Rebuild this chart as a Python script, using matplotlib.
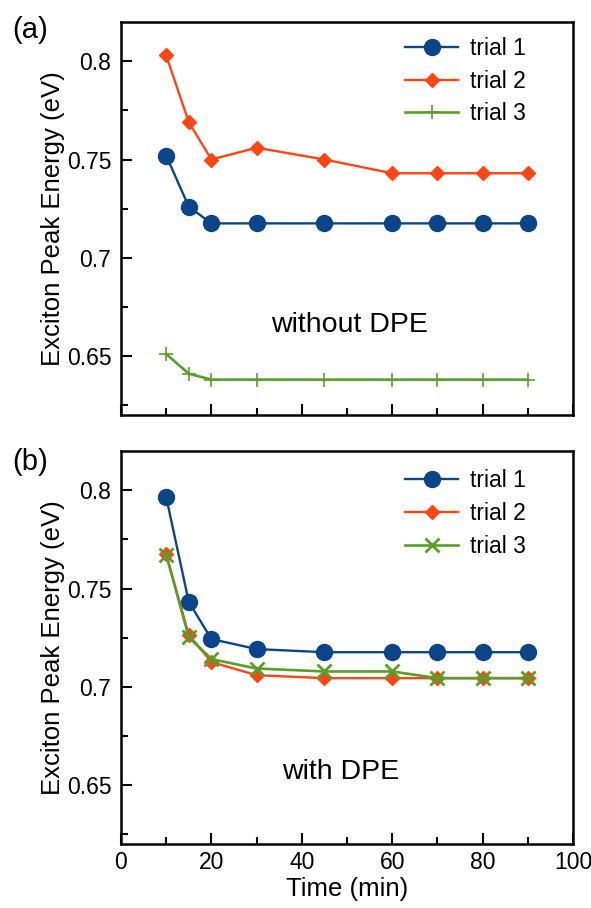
import numpy as np
import matplotlib
matplotlib.use('Agg')
import matplotlib.pyplot as plt
from matplotlib.ticker import MultipleLocator

plt.rcParams['font.family'] = ['Liberation Sans', 'DejaVu Sans']

time = [10, 15, 20, 30, 45, 60, 70, 80, 90]

# (a) without DPE
a_trial1 = [0.752, 0.726, 0.7175, 0.7175, 0.7175, 0.7175, 0.7175, 0.7175, 0.7175]
a_trial2 = [0.803, 0.769, 0.750, 0.756, 0.750, 0.743, 0.743, 0.743, 0.743]
a_trial3 = [0.651, 0.641, 0.638, 0.638, 0.638, 0.638, 0.638, 0.638, 0.638]

# (b) with DPE
b_trial1 = [0.7966, 0.7432, 0.7243, 0.7192, 0.7176, 0.7176, 0.7176, 0.7176, 0.7176]
b_trial2 = [0.7675, 0.7264, 0.7126, 0.7059, 0.7044, 0.7044, 0.7044, 0.7044, 0.7044]
b_trial3 = [0.7672, 0.7253, 0.7141, 0.7093, 0.7078, 0.7078, 0.7044, 0.7044, 0.7044]

blue = '#0b4589'
red = '#ff4514'
green = '#5a9e2a'

fig = plt.figure(figsize=(5.91, 9.08), dpi=100)
ax1 = fig.add_axes([0.2047, 0.543, 0.7648, 0.4328])
ax2 = fig.add_axes([0.2047, 0.0705, 0.7648, 0.4328])

def style(ax):
    ax.set_xlim(0, 100)
    ax.set_ylim(0.62, 0.82)
    ax.xaxis.set_major_locator(MultipleLocator(20))
    ax.xaxis.set_minor_locator(MultipleLocator(10))
    ax.yaxis.set_major_locator(MultipleLocator(0.05))
    ax.yaxis.set_minor_locator(MultipleLocator(0.025))
    ax.tick_params(which='both', direction='in', top=False, right=False,
                   width=1.5, labelsize=16.5)
    ax.tick_params(which='major', length=8)
    ax.tick_params(which='minor', length=5)
    ax.tick_params(axis='y', which='major', pad=7)
    ax.tick_params(axis='x', which='major', pad=5)
    ax.yaxis.set_major_formatter(plt.FuncFormatter(lambda v, p: ('%g' % round(v, 3))))
    for s in ax.spines.values():
        s.set_linewidth(1.8)
    ax.set_ylabel('Exciton Peak Energy (eV)', fontsize=18.5, labelpad=1)

style(ax1)
style(ax2)
ax1.tick_params(labelbottom=False)

ax1.plot(time, a_trial1, '-o', color=blue, lw=1.7, ms=11.5, label='trial 1')
ax1.plot(time, a_trial2, '-D', color=red, lw=1.7, ms=7.5, label='trial 2')
ax1.plot(time, a_trial3, '-+', color=green, lw=1.9, ms=10, mew=1.2, label='trial 3')

ax2.plot(time, b_trial1, '-o', color=blue, lw=1.7, ms=11.5, label='trial 1')
ax2.plot(time, b_trial2, '-D', color=red, lw=1.7, ms=7.5, label='trial 2')
ax2.plot(time, b_trial3, '-x', color=green, lw=1.9, ms=10, mew=2, label='trial 3')

ax1.legend(loc='upper left', bbox_to_anchor=(0.609, 0.985), borderaxespad=0,
           frameon=False, fontsize=16.5, handlelength=2.3, labelspacing=0.42,
           handletextpad=0.5)
ax2.legend(loc='upper left', bbox_to_anchor=(0.609, 0.978), borderaxespad=0,
           frameon=False, fontsize=16.5, handlelength=2.3, labelspacing=0.45,
           handletextpad=0.5)

ax2.set_xlabel('Time (min)', fontsize=18.5, labelpad=2)

ax1.text(50.5, 0.666, 'without DPE', fontsize=20.5, ha='center', va='center')
ax2.text(48.5, 0.6565, 'with DPE', fontsize=20.5, ha='center', va='center')

fig.text(0.051, 0.967, '(a)', fontsize=21, ha='center', va='center')
fig.text(0.051, 0.491, '(b)', fontsize=21, ha='center', va='center')

fig.savefig('out.png', dpi=100)
